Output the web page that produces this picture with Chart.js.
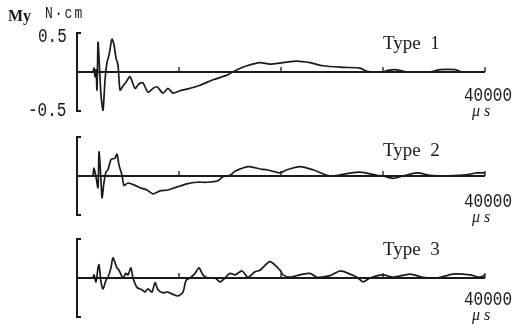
<!DOCTYPE html>
<html>
<head>
<meta charset="utf-8">
<script src="https://cdn.jsdelivr.net/npm/chart.js@4"></script>
<style>
  html, body { margin: 0; padding: 0; background: #fff; }
  #wrap { position: relative; width: 517px; height: 324px; overflow: hidden; }
  canvas { position: absolute; left: 0; top: 0; }
  .lbl { position: absolute; color: #1a1a1a; white-space: pre; line-height: 1; transform-origin: 0 0; }
  .num { font-family: "Liberation Mono", monospace; font-size: 16px; transform: scaleY(1.3); }
  .typ { font-family: "Liberation Serif", serif; font-size: 19px; }
  .us { font-family: "Liberation Serif", serif; font-size: 16px; font-style: italic; }
</style>
</head>
<body>
<div id="wrap">
  <canvas id="p1" width="517" height="324"></canvas>
  <canvas id="p2" width="517" height="324"></canvas>
  <canvas id="p3" width="517" height="324"></canvas>

  <div class="lbl typ" style="left:8px;top:8px;font-size:16px;font-weight:bold;">My</div>
  <div class="lbl num" style="left:45px;top:5px;font-size:13px;letter-spacing:2px;">N·cm</div>
  <div class="lbl num" style="left:38px;top:26px;">0.5</div>
  <div class="lbl num" style="left:28px;top:100px;">-0.5</div>

  <div class="lbl typ" style="left:383px;top:33px;">Type  1</div>
  <div class="lbl typ" style="left:383px;top:140px;">Type  2</div>
  <div class="lbl typ" style="left:383px;top:239px;">Type  3</div>

  <div class="lbl num" style="left:464px;top:85px;">40000</div>
  <div class="lbl us" style="left:472px;top:103px;">μ s</div>
  <div class="lbl num" style="left:464px;top:191px;">40000</div>
  <div class="lbl us" style="left:472px;top:209px;">μ s</div>
  <div class="lbl num" style="left:464px;top:289px;">40000</div>
  <div class="lbl us" style="left:472px;top:307px;">μ s</div>
</div>

<script>
// time in microseconds, moment My in N·cm
const xTicks = [10000, 20000, 30000, 40000];

const type1T = [1570, 1670, 1760, 1860, 1960, 2060, 2160, 2350, 2550, 2750,
  2940, 3140, 3430, 3630, 3820, 4020, 4220, 4510, 4800, 5200,
  5690, 6080, 6470, 6960, 7450, 7840, 8430, 8920, 9410, 10100,
  10780, 12060, 13330, 14710, 15690, 16670, 17940, 18920, 20200, 21570,
  22840, 24120, 26080, 27750, 28430, 30000, 30490, 31180, 31960, 32450,
  34610, 35590, 37060, 37750, 40000];
const type1V = [0, 0.05, -0.06, 0.03, -0.23, 0.38, 0.18, -0.29, -0.49, -0.10,
  0.12, 0.22, 0.42, 0.35, 0.18, 0.09, -0.23, -0.18, -0.13, -0.06,
  -0.21, -0.15, -0.14, -0.26, -0.21, -0.19, -0.27, -0.21, -0.27, -0.24,
  -0.22, -0.17, -0.10, -0.04, 0.03, 0.08, 0.12, 0.10, 0.12, 0.14,
  0.12, 0.08, 0.06, 0.05, 0.01, 0, 0.02, 0.03, 0.01, 0,
  0, 0.03, 0.03, 0, 0];

const type2T = [1570, 1670, 1860, 2060, 2160, 2350, 2450, 2650, 2840, 3040,
  3330, 3730, 3920, 4120, 4410, 4610, 5000, 5690, 6180, 6860,
  7450, 8140, 8920, 9800, 10780, 11760, 12750, 13820, 14310, 15000,
  15490, 16770, 17940, 18630, 19900, 20590, 21860, 23140, 24800, 26470,
  27750, 29410, 30000, 30980, 31960, 33330, 34610, 35880, 37840, 39220,
  40000];
const type2V = [0, 0.10, -0.01, -0.15, 0.31, -0.05, -0.28, -0.08, 0.05, 0.08,
  0.21, 0.23, 0.28, 0.14, 0.01, -0.12, -0.09, -0.12, -0.15, -0.18,
  -0.23, -0.19, -0.18, -0.14, -0.10, -0.08, -0.08, -0.06, -0.01, 0.01,
  0.06, 0.12, 0.09, 0.08, 0.04, 0.08, 0.12, 0.08, 0, 0.03,
  0.05, 0.01, 0, -0.03, 0, 0.04, 0.01, 0, 0.01, 0.04,
  0.04];

const type3T = [1570, 1670, 1860, 2060, 2160, 2350, 2550, 2840, 3040, 3330,
  3530, 3920, 4120, 4510, 4800, 5000, 5290, 5490, 5880, 6370,
  6670, 6960, 7350, 7650, 7940, 8430, 8920, 9410, 9900, 10390,
  10690, 11080, 11570, 11960, 12350, 12840, 13530, 14020, 14510, 15000,
  15490, 16180, 16770, 17450, 17940, 18920, 19900, 20200, 20880, 21860,
  22840, 23530, 24800, 25780, 26770, 27450, 28040, 28730, 30000, 30980,
  32650, 33920, 35290, 36860, 38530, 39510, 40000];
const type3V = [0, 0.04, -0.05, 0.13, 0.17, -0.05, -0.14, -0.03, 0.01, 0.13,
  0.26, 0.13, 0.10, 0, 0.06, 0.04, 0.13, 0, -0.12, -0.15,
  -0.18, -0.14, -0.18, -0.06, -0.15, -0.19, -0.18, -0.21, -0.23, -0.18,
  -0.03, 0, 0.06, 0.13, 0.04, 0, 0, -0.05, 0, 0.06,
  0.04, 0.09, 0.01, 0.08, 0.10, 0.21, 0.10, 0.04, 0.01, 0.04,
  0.06, 0.01, 0.03, 0.09, 0.05, 0.01, -0.05, 0, 0.04, 0.01,
  0.05, 0.01, 0, 0.05, 0.04, 0.01, 0.04];

// bracket on the left, zero line with small tick marks
const framePlugin = {
  id: "frame",
  beforeDatasetsDraw(chart) {
    const { ctx, chartArea, scales } = chart;
    const x = scales.x, y = scales.y;
    const y0 = y.getPixelForValue(0);
    const yTop = y.getPixelForValue(0.5);
    const yBot = y.getPixelForValue(-0.5);
    ctx.save();
    ctx.strokeStyle = "#1a1a1a";
    ctx.lineWidth = 2;
    ctx.beginPath();
    ctx.moveTo(chartArea.left + 4, yTop);
    ctx.lineTo(chartArea.left, yTop);
    ctx.lineTo(chartArea.left, yBot);
    ctx.lineTo(chartArea.left + 4, yBot);
    ctx.stroke();
    ctx.lineWidth = 1.8;
    ctx.beginPath();
    ctx.moveTo(chartArea.left, y0);
    ctx.lineTo(x.getPixelForValue(40000), y0);
    ctx.stroke();
    ctx.lineWidth = 1.3;
    xTicks.forEach(t => {
      const px = x.getPixelForValue(t);
      ctx.beginPath();
      ctx.moveTo(px, y0);
      ctx.lineTo(px, y0 - 5);
      ctx.stroke();
    });
    ctx.restore();
  }
};

function makePanel(id, times, values, top, bottom) {
  const ctx = document.getElementById(id).getContext("2d");
  return new Chart(ctx, {
    type: "line",
    data: {
      datasets: [{
        data: times.map((t, i) => ({ x: t, y: values[i] })),
        borderColor: "#1a1a1a",
        borderWidth: 1.7,
        pointRadius: 0,
        tension: 0.25,
        fill: false
      }]
    },
    options: {
      responsive: false,
      animation: false,
      events: [],
      layout: { padding: { left: 77, right: 32, top: top, bottom: 324 - bottom } },
      scales: {
        x: { type: "linear", min: 0, max: 40000, display: false },
        y: { type: "linear", min: -0.5, max: 0.5, display: false }
      },
      plugins: { legend: { display: false }, tooltip: { enabled: false } }
    },
    plugins: [framePlugin]
  });
}

makePanel("p1", type1T, type1V, 33, 111);
makePanel("p2", type2T, type2V, 137, 215);
makePanel("p3", type3T, type3V, 239, 317);
</script>
</body>
</html>
